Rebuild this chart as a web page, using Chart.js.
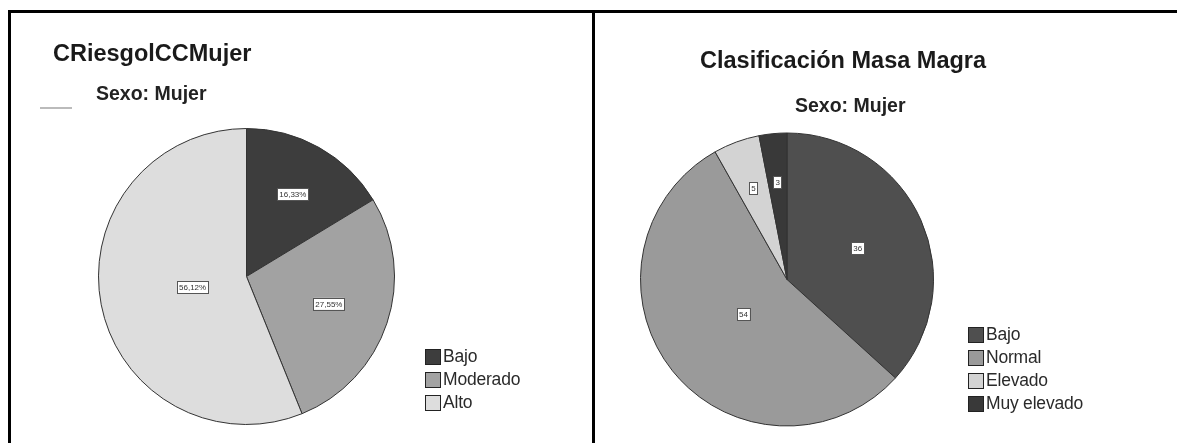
<!DOCTYPE html>
<html>
<head>
<meta charset="utf-8">
<script src="https://cdn.jsdelivr.net/npm/chart.js@4"></script>
<style>
    body { margin: 0; width: 1177px; height: 443px; background: #fff; position: relative; overflow: hidden; font-family: "Liberation Sans", Arial, sans-serif; }
    .panel { position: absolute; top: 10px; height: 440px; border-top: 3px solid #000; border-left: 3px solid #000; box-sizing: border-box; }
    canvas { position: absolute; top: 0; }
    .title { position: absolute; font-size: 23.5px; font-weight: bold; color: #1a1a1a; white-space: nowrap; }
    .sub { position: absolute; font-size: 19.5px; font-weight: bold; color: #222; white-space: nowrap; }
    .legend { position: absolute; font-size: 17.5px; color: #2a2a2a; letter-spacing: -0.2px; }
    .legend div { height: 23px; line-height: 23px; display: flex; align-items: center; }
    .legend span.box { width: 16px; height: 16px; border: 1px solid #222; margin-right: 2px; box-sizing: border-box; }
    .smudge { position: absolute; left: 40px; top: 107px; width: 32px; height: 2px; background: #bbb; }
</style>
</head>
<body>
<div class="panel" style="left:8px; width:585px;"></div>
<div class="panel" style="left:592px; width:585px;"></div>

<canvas id="riesgoChart" width="590" height="443" style="left:0"></canvas>
<canvas id="masaChart" width="587" height="443" style="left:590px"></canvas>

<div class="title" style="left:53px; top:40px;">CRiesgolCCMujer</div>
<div class="sub" style="left:96px; top:82px;">Sexo: Mujer</div>
<div class="smudge"></div>

<div class="title" style="left:700px; top:47px;">Clasificación Masa Magra</div>
<div class="sub" style="left:795px; top:94px;">Sexo: Mujer</div>

<div class="legend" id="riesgoLegend" style="left:425px; top:345px;"></div>
<div class="legend" id="masaLegend" style="left:968px; top:323px;"></div>

<script>
const riesgoLabels = ['Bajo', 'Moderado', 'Alto'];
const riesgoValues = [16.33, 27.55, 56.12];
const riesgoColors = ['#3d3d3d', '#a2a2a2', '#dddddd'];

const masaLabels = ['Bajo', 'Normal', 'Elevado', 'Muy elevado'];
const masaValues = [36, 54, 5, 3];
const masaColors = ['#4f4f4f', '#9a9a9a', '#d3d3d3', '#393939'];

// value boxes drawn at each slice's centroid
const sliceLabels = {
    id: 'sliceLabels',
    afterDatasetsDraw(chart, args, opts) {
        const ctx = chart.ctx;
        const meta = chart.getDatasetMeta(0);
        ctx.save();
        ctx.font = '8px "Liberation Sans", Arial, sans-serif';
        ctx.textAlign = 'center';
        ctx.textBaseline = 'middle';
        meta.data.forEach((arc, i) => {
            const p = arc.getProps(['x', 'y', 'startAngle', 'endAngle', 'outerRadius']);
            const half = (p.endAngle - p.startAngle) / 2;
            const mid = p.startAngle + half;
            const d = 2 * p.outerRadius * Math.sin(half) / (3 * half);
            const x = p.x + Math.cos(mid) * d;
            const y = p.y + Math.sin(mid) * d;
            const text = opts.format(chart.data.datasets[0].data[i]);
            const w = ctx.measureText(text).width + 4;
            ctx.fillStyle = '#fff';
            ctx.fillRect(x - w / 2, y - 6, w, 12);
            ctx.strokeStyle = '#555';
            ctx.lineWidth = 1;
            ctx.strokeRect(Math.round(x - w / 2) + 0.5, Math.round(y - 6) + 0.5, Math.round(w), 12);
            ctx.fillStyle = '#333';
            ctx.fillText(text, x, y + 0.5);
        });
        ctx.restore();
    }
};

function makePie(id, labels, values, colors, padding, format) {
    new Chart(document.getElementById(id), {
        type: 'pie',
        data: {
            labels: labels,
            datasets: [{
                data: values,
                backgroundColor: colors,
                borderColor: '#333',
                borderWidth: 1
            }]
        },
        options: {
            responsive: false,
            animation: false,
            layout: { padding: padding },
            plugins: {
                legend: { display: false },
                tooltip: { enabled: false },
                sliceLabels: { format: format }
            }
        },
        plugins: [sliceLabels]
    });
}

function makeLegend(id, labels, colors) {
    const el = document.getElementById(id);
    labels.forEach((l, i) => {
        const row = document.createElement('div');
        row.innerHTML = `<span class="box" style="background:${colors[i]}"></span>${l}`;
        el.appendChild(row);
    });
}

makePie('riesgoChart', riesgoLabels, riesgoValues, riesgoColors,
    { top: 128, bottom: 18, left: 98, right: 195 },
    v => v.toFixed(2).replace('.', ',') + '%');
makePie('masaChart', masaLabels, masaValues, masaColors,
    { top: 132, bottom: 16, left: 50, right: 243 },
    v => String(v));

makeLegend('riesgoLegend', riesgoLabels, riesgoColors);
makeLegend('masaLegend', masaLabels, masaColors);
</script>
</body>
</html>
